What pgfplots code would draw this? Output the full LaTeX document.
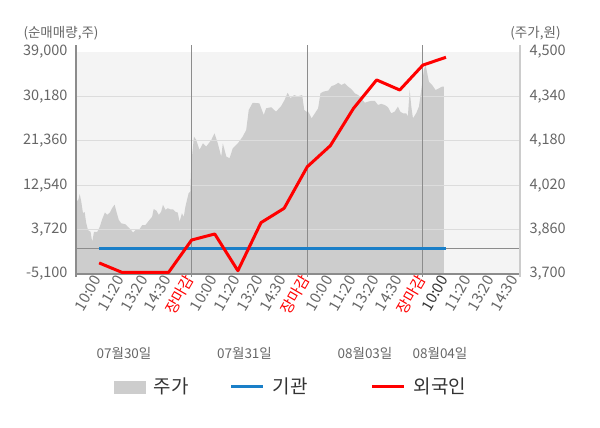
\documentclass[border=0pt]{standalone}
\usepackage{pgfplots}
\pgfplotsset{compat=1.18}
\usepackage{fontspec}
\setmainfont{Noto Sans CJK KR}
\definecolor{cTick}{HTML}{666666}
\definecolor{cText}{HTML}{333333}
\definecolor{cArea}{HTML}{CDCDCD}
\definecolor{cBg}{HTML}{F4F4F4}
\definecolor{cGrid}{HTML}{DCDCDC}
\definecolor{cAxis}{HTML}{8C8C8C}
\definecolor{cRAxis}{HTML}{CCCCCC}
\definecolor{cBlue}{HTML}{1A7FC8}
\definecolor{cRed}{HTML}{FF0000}
\begin{document}
\begin{tikzpicture}
\useasboundingbox (0,0) rectangle (600pt,428pt);
\begin{axis}[
  at={(76pt,154pt)}, anchor=south west, scale only axis,
  width=444pt, height=222pt,
  xmin=0, xmax=19.2, ymin=3700, ymax=4500,
  scaled y ticks=false,
  axis line style={draw=none}, tick style={draw=none}, xtick=\empty,
  yticklabel pos=right,
  ytick={3700,3860,4020,4180,4340,4500},
  yticklabels={{3,700},{3,860},{4,020},{4,180},{4,340},{4,500}},
  yticklabel style={font=\fontsize{14.5pt}{14.5pt}\selectfont, text=cTick, anchor=west, xshift=6pt},
]
\fill[cBg] (rel axis cs:0,0) rectangle (rel axis cs:1,1);
\addplot[fill=cArea, draw=none] coordinates {
(0,3700) (0,3960) (0.10,3967) (0.16,3988) (0.23,3960) (0.30,3920) (0.375,3923) (0.44,3884) (0.52,3858) (0.63,3852) (0.70,3816) (0.78,3852) (0.92,3852) (1.03,3870) (1.13,3897) (1.25,3922) (1.35,3913) (1.47,3922) (1.56,3937) (1.67,3950) (1.75,3924) (1.85,3895) (1.95,3883) (2.14,3879) (2.24,3870) (2.36,3861) (2.47,3849) (2.57,3858) (2.72,3858) (2.86,3876) (3.00,3876) (3.15,3892) (3.29,3906) (3.36,3934) (3.48,3928) (3.58,3913) (3.68,3924) (3.76,3949) (3.87,3931) (3.97,3937) (4.08,3933) (4.19,3933) (4.30,3924) (4.40,3921) (4.48,3888) (4.58,3919) (4.66,3906) (4.73,3942) (4.80,3967) (4.87,3991) (4.94,3997)
(4.99,4100) (5.10,4195) (5.20,4183) (5.34,4147) (5.49,4171) (5.63,4159) (5.85,4183) (5.99,4207) (6.13,4171) (6.28,4123) (6.35,4171) (6.50,4123) (6.64,4117) (6.78,4153) (7.00,4171) (7.21,4195) (7.36,4219) (7.47,4291) (7.64,4317) (7.93,4315) (8.12,4273) (8.22,4297) (8.44,4301) (8.65,4285) (8.87,4305) (9.02,4327) (9.15,4353) (9.28,4333) (9.43,4345) (9.58,4340) (9.78,4345) (9.87,4291)
(9.96,4285) (10.04,4285) (10.19,4261) (10.33,4279) (10.47,4297) (10.57,4351) (10.69,4357) (10.91,4361) (11.05,4377) (11.19,4381) (11.34,4389) (11.48,4381) (11.62,4387) (11.77,4375) (11.91,4366) (12.06,4351) (12.20,4345) (12.34,4333) (12.49,4317) (12.63,4321) (12.77,4324) (12.92,4324) (13.06,4309) (13.20,4313) (13.35,4309) (13.49,4301) (13.63,4279) (13.78,4285) (13.92,4303) (14.02,4285) (14.14,4279) (14.28,4279) (14.35,4267) (14.43,4363) (14.50,4303) (14.57,4261) (14.71,4279) (14.83,4303) (14.93,4363)
(14.98,4393) (15.04,4435) (15.12,4453) (15.19,4423) (15.26,4393) (15.40,4381) (15.55,4363) (15.69,4369) (15.83,4375) (15.91,4375) (15.91,3700)
};
\end{axis}
\begin{axis}[
  at={(76pt,154pt)}, anchor=south west, scale only axis,
  width=444pt, height=222pt,
  xmin=0, xmax=19.2, ymin=-5100, ymax=39000,
  scaled y ticks=false, scaled x ticks=false,
  axis line style={draw=none}, tick style={draw=none},
  clip=false,
  xtick={1,...,19},
  xticklabels={10:00,11:20,13:20,14:30,\textcolor{cRed}{장마감},10:00,11:20,13:20,14:30,\textcolor{cRed}{장마감},10:00,11:20,13:20,14:30,\textcolor{cRed}{장마감},\textcolor{cText}{10:00},11:20,13:20,14:30},
  xticklabel style={rotate=60, anchor=east, font=\fontsize{15pt}{15pt}\selectfont, text=cTick},
  ytick={-5100,3720,12540,21360,30180,39000},
  yticklabels={{-5,100},{3,720},{12,540},{21,360},{30,180},{39,000}},
  yticklabel style={font=\fontsize{14.5pt}{14.5pt}\selectfont, text=cTick, xshift=-5pt},
  legend columns=3,
  legend cell align=left,
  legend style={at={(0.485,-0.508)}, anchor=center, draw=none, fill=none,
    font=\fontsize{19pt}{19pt}\selectfont, text=cText,
    /tikz/every odd column/.append style={column sep=6pt},
    /tikz/every even column/.append style={column sep=39pt}},
]
\addlegendimage{legend image code/.code={\fill[cArea] (0pt,-6pt) rectangle (31pt,6pt);}}
\draw[cGrid, line width=1pt] (axis cs:0,3720) -- (axis cs:19.2,3720);
\draw[cGrid, line width=1pt] (axis cs:0,12540) -- (axis cs:19.2,12540);
\draw[cGrid, line width=1pt] (axis cs:0,21360) -- (axis cs:19.2,21360);
\draw[cGrid, line width=1pt] (axis cs:0,30180) -- (axis cs:19.2,30180);
\draw[cAxis, line width=1pt] (axis cs:0,0) -- (axis cs:19.2,0);
\draw[cAxis, line width=1.2pt] (axis cs:0,-5100) -- (axis cs:19.2,-5100);
\draw[cAxis, line width=1.2pt] (axis cs:0,-5700) -- (axis cs:0,40400);
\draw[cRAxis, line width=1.2pt] (axis cs:19.2,-5700) -- (axis cs:19.2,40400);
\draw[cAxis, line width=1.2pt] (axis cs:5,-5700) -- (axis cs:5,40400);
\draw[cAxis, line width=1.2pt] (axis cs:10,-5700) -- (axis cs:10,40400);
\draw[cAxis, line width=1.2pt] (axis cs:15,-5700) -- (axis cs:15,40400);
\addplot[cBlue, line width=3pt, line join=round,
  legend image code/.code={\draw[cBlue, line width=3pt] (0pt,0pt) -- (32pt,0pt);}]
  coordinates {(1,0) (2,0) (3,0) (4,0) (5,0) (6,0) (7,0) (8,0) (9,0) (10,0) (11,0) (12,0) (13,0) (14,0) (15,0) (16,0)};
\addplot[cRed, line width=3pt, line join=round,
  legend image code/.code={\draw[cRed, line width=3pt] (0pt,0pt) -- (32pt,0pt);}]
  coordinates {(1,-2900) (2,-4800) (3,-4800) (4,-4800) (5,1650) (6,2850) (7,-4450) (8,5100) (9,7950) (10,16200) (11,20400) (12,27800) (13,33450) (14,31450) (15,36400) (16,37950)};
\legend{주가,기관\rule{22pt}{0pt},외국인}
\end{axis}
\begin{scope}[every node/.style={font=\fontsize{13.5pt}{13.5pt}\selectfont, text=cTick, inner sep=0pt}]
\node at (124pt,75pt) {07월30일};
\node at (244.5pt,75pt) {07월31일};
\node at (365pt,75pt) {08월03일};
\node at (440pt,75pt) {08월04일};
\node at (61pt,395pt) {(순매매량,주)};
\node at (535.5pt,395pt) {(주가,원)};
\end{scope}
\end{tikzpicture}
\end{document}
